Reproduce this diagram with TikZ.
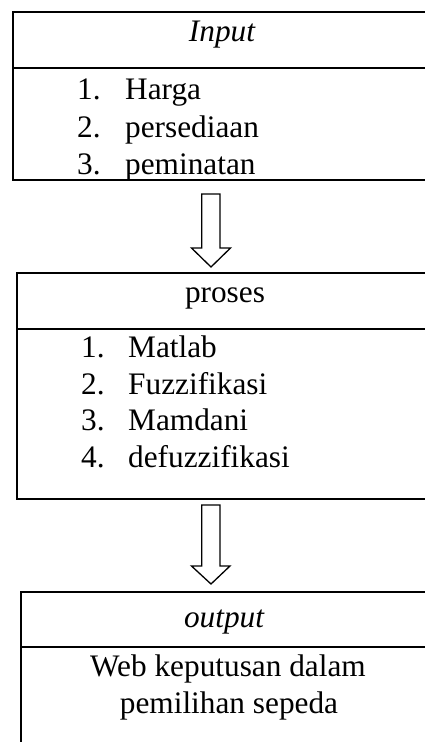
\documentclass[tikz,border=0pt]{standalone}
\usepackage{fontspec}
\setmainfont{Liberation Serif}
\begin{document}
\begin{tikzpicture}[x=1pt,y=-1pt,
  txt/.style={inner sep=0pt, anchor=base, font=\fontsize{31.3}{37}\selectfont},
  itemnum/.style={txt, anchor=base west},
  boxline/.style={line width=2pt},
  boxlinethin/.style={line width=1.6pt},
  blockarrow/.style={line width=1.3pt, line join=miter}]
\useasboundingbox (0,0) rectangle (425,742);
\clip (0,0) rectangle (425,742);
% Box 1: Input
\draw[boxline] (13,12) rectangle (440,180);
\draw[boxline] (13,68) -- (440,68);
\node[txt] (inputhead) at (222,41) {\itshape Input};
\node[itemnum] (in1n) at (77,99) {1.};
\node[itemnum] (in1) at (125,99) {Harga};
\node[itemnum] (in2n) at (77,137) {2.};
\node[itemnum] (in2) at (125,137) {persediaan};
\node[itemnum] (in3n) at (77,174) {3.};
\node[itemnum] (in3) at (125,174) {peminatan};
% Box 2: proses
\draw[boxline] (17,273) rectangle (440,499);
\draw[boxline] (17,329) -- (440,329);
\node[txt] (proseshead) at (225,302) {proses};
\node[itemnum] (pr1n) at (81,357) {1.};
\node[itemnum] (pr1) at (128,357) {Matlab};
\node[itemnum] (pr2n) at (81,394) {2.};
\node[itemnum] (pr2) at (128,394) {Fuzzifikasi};
\node[itemnum] (pr3n) at (81,430) {3.};
\node[itemnum] (pr3) at (128,430) {Mamdani};
\node[itemnum] (pr4n) at (81,467) {4.};
\node[itemnum] (pr4) at (128,467) {defuzzifikasi};
% Box 3: output
\draw[boxlinethin] (21,592) rectangle (440,760);
\draw[boxlinethin] (21,647) -- (440,647);
\node[txt] (outputhead) at (224,627) {\itshape output};
\node[txt] (out1) at (228,676) {Web keputusan dalam};
\node[txt] (out2) at (229,713) {pemilihan sepeda};
% Block arrows
\coordinate (a1top) at (211,194);
\coordinate (a1tip) at (211,267);
\coordinate (a2top) at (211,505);
\coordinate (a2tip) at (211,584);
\draw[blockarrow] (a1top) ++(-9.3,0) -- ++(18.3,0) -- ++(0,54) -- ++(10.5,0) -- (a1tip) -- ++(-19.5,-19) -- ++(10.2,0) -- cycle;
\draw[blockarrow] (a2top) ++(-9.3,0) -- ++(18.3,0) -- ++(0,61) -- ++(10,0) -- (a2tip) -- ++(-19.5,-18) -- ++(10.2,0) -- cycle;
\end{tikzpicture}
\end{document}
